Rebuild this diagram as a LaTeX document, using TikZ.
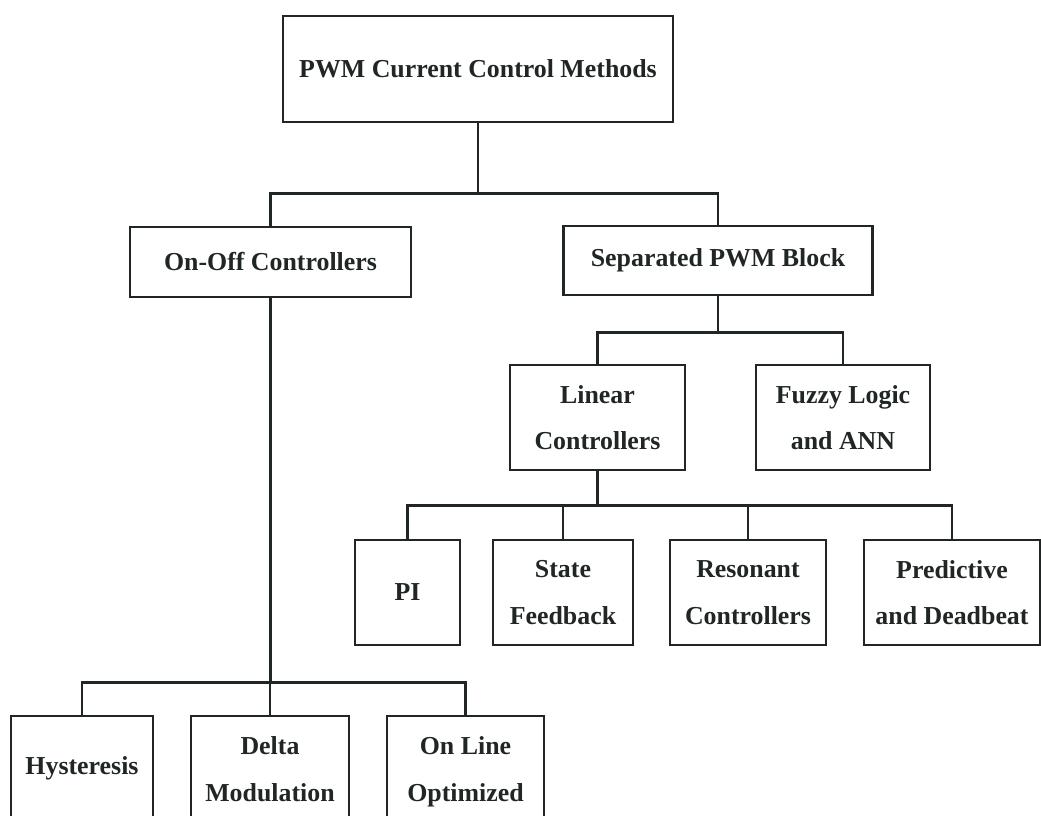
\documentclass[tikz,border=0pt]{standalone}
\usepackage{fontspec}
\setmainfont{Liberation Serif}
\definecolor{ink}{RGB}{32,38,36}
\tikzset{
  blk/.style={draw=ink, line width=2pt, inner sep=0pt, align=center, text=ink,
    font=\bfseries\fontsize{19.4}{35}\selectfont},
  wire/.style={draw=ink, line width=2pt}
}
\begin{document}
\begin{tikzpicture}[x=0.75pt,y=0.75pt,yscale=-1,xscale=1]
\useasboundingbox (0,0) rectangle (1041,816);
\clip (0,0) rectangle (1041,816);
% Top Node
\node [blk, minimum width=292.5pt, minimum height=79.5pt] (pwm) at (478,69) {PWM Current Control Methods};
% Second Level
\node [blk, minimum width=210.75pt, minimum height=52.5pt] (onoff) at (270.5,262) {On-Off Controllers};
\node [blk, minimum width=231.75pt, minimum height=51.75pt] (sep) at (718,260.5) {Separated PWM Block};
% Third Level
\node [blk, minimum width=131.25pt, minimum height=78.75pt] (linear) at (597.5,417.5) {Linear\\Controllers};
\node [blk, minimum width=130.5pt, minimum height=78.75pt] (fuzzy) at (843,417.5) {Fuzzy Logic\\and ANN};

\node [blk, minimum width=78.75pt, minimum height=78.75pt] (pi) at (407.5,592.5) {PI};
\node [blk, minimum width=105pt, minimum height=78.75pt] (state) at (563,592.5) {State\\Feedback};
\node [blk, minimum width=117pt, minimum height=78.75pt] (reson) at (748,592.5) {Resonant\\Controllers};
\node [blk, minimum width=132pt, minimum height=78.75pt] (pred) at (952,592.5) {Predictive\\and Deadbeat};
% Bottom Row
\node [blk, minimum width=106.5pt, minimum height=78.75pt] (hyst) at (82,768.5) {Hysteresis};
\node [blk, minimum width=118.5pt, minimum height=78.75pt] (delta) at (270,768.5) {Delta\strut\\Modulation\strut};
\node [blk, minimum width=117.75pt, minimum height=78.75pt] (online) at (465.5,768.5) {On Line\strut\\Optimized\strut};

\draw [wire] (pwm.south) -- ++(0,70) coordinate (j1);
\draw [wire] (onoff.north) |- (j1) -| (sep.north);

\draw [wire] (sep.south) -- ++(0,36) coordinate (j2);
\draw [wire] (linear.north) |- (j2) -| (fuzzy.north);

\draw [wire] (linear.south) -- ++(0,34) coordinate (j3);
\draw [wire] (pi.north) |- (j3) -| (pred.north);
\draw [wire] (j3) -| (state.north);
\draw [wire] (j3) -| (reson.north);

\draw [wire] (onoff.south) -- ++(0,384) coordinate (j4);
\draw [wire] (hyst.north) |- (j4) -| (online.north);
\draw [wire] (j4) -| (delta.north);
\end{tikzpicture}
\end{document}
